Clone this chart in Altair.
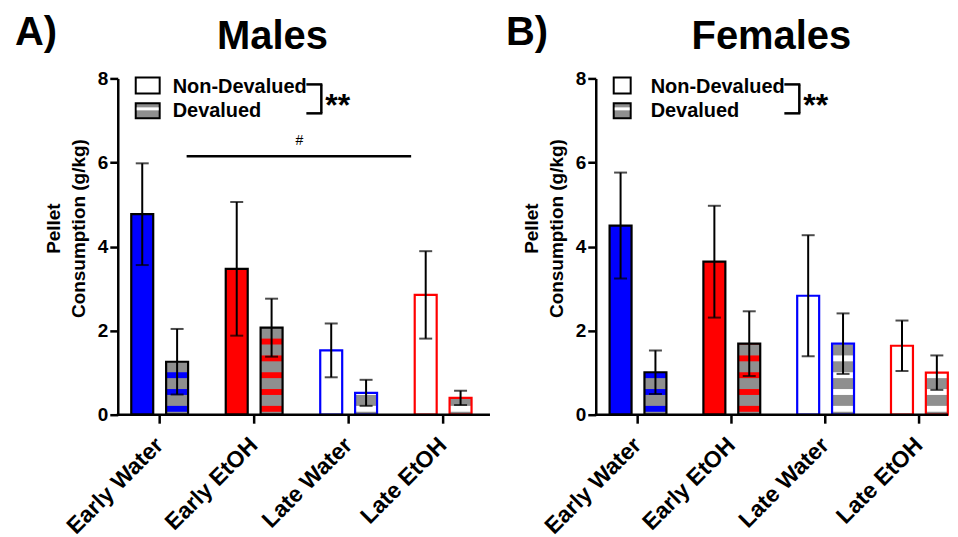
import altair as alt
import pandas as pd

FONT = "Liberation Sans"
GREY = "#8f8f8f"

groups = ["Early Water", "Early EtOH", "Late Water", "Late EtOH"]
conds = ["Non-Devalued", "Devalued"]
group_colors = ["#0000ff", "#ff0000", "#0000ff", "#ff0000"]

male_nondev = [4.77, 3.47, 1.53, 2.85]
male_nondev_sem = [1.21, 1.59, 0.64, 1.04]
male_dev = [1.26, 2.07, 0.52, 0.40]
male_dev_sem = [0.78, 0.69, 0.31, 0.17]

female_nondev = [4.50, 3.64, 2.83, 1.64]
female_nondev_sem = [1.26, 1.33, 1.44, 0.60]
female_dev = [1.01, 1.69, 1.69, 1.00]
female_dev_sem = [0.52, 0.77, 0.72, 0.41]


def build_table(nondev, nondev_sem, dev, dev_sem):
    rows = []
    for i, g in enumerate(groups):
        c = group_colors[i]
        early = i < 2
        rows.append(dict(group=g, cond="Non-Devalued", mean=nondev[i],
                         lo=nondev[i] - nondev_sem[i], hi=nondev[i] + nondev_sem[i],
                         fill=c if early else "white", stroke="black" if early else c))
        rows.append(dict(group=g, cond="Devalued", mean=dev[i],
                         lo=dev[i] - dev_sem[i], hi=dev[i] + dev_sem[i],
                         fill=GREY, stroke="black" if early else c))
    return pd.DataFrame(rows)


def build_stripes(dev, phase=0.07, period=0.4, thick=0.14):
    rows = []
    for i, g in enumerate(groups):
        color = group_colors[i] if i < 2 else "white"
        k = 0
        while True:
            s = phase + k * period
            if s >= dev[i]:
                break
            e = min(s + thick, dev[i])
            rows.append(dict(group=g, cond="Devalued", y0=s, y1=e, color=color))
            k += 1
    return pd.DataFrame(rows)


one = pd.DataFrame({"k": [0]})
labels_df = pd.DataFrame({"group": groups})


def txt(text, x, y, size, weight="bold", align="left"):
    return alt.Chart(one).mark_text(text=text, font=FONT, fontSize=size, fontWeight=weight,
                                    align=align, baseline="alphabetic", color="black").encode(
        x=alt.value(x), y=alt.value(y))


def hline(x1, x2, y, w=2.5):
    return alt.Chart(one).mark_rule(color="black", strokeWidth=w).encode(
        x=alt.value(x1), x2=alt.value(x2), y=alt.value(y))


def vline(x, y1, y2, w=2.5):
    return alt.Chart(one).mark_rule(color="black", strokeWidth=w).encode(
        x=alt.value(x), y=alt.value(y1), y2=alt.value(y2))


def box(x1, x2, y1, y2, fill, stroke="black", sw=2):
    return alt.Chart(one).mark_rect(fill=fill, stroke=stroke, strokeWidth=sw).encode(
        x=alt.value(x1), x2=alt.value(x2), y=alt.value(y1), y2=alt.value(y2))


HEIGHT = 337


def panel(nondev, nondev_sem, dev, dev_sem, letter, letter_x, title, title_x,
          width, rng, box_w, extra):
    df = build_table(nondev, nondev_sem, dev, dev_sem)
    sdf = build_stripes(dev)

    xscale = alt.Scale(range=rng, paddingInner=0, paddingOuter=0)
    x = alt.X("group:N", sort=groups, scale=xscale, axis=None)
    xo = alt.XOffset("cond:N", sort=conds, scale=alt.Scale(paddingInner=0.37, paddingOuter=0.54))
    y = alt.Y("mean:Q", scale=alt.Scale(domain=[0, 8]),
              axis=alt.Axis(values=[0, 2, 4, 6, 8], format="d",
                            title=["Pellet", "Consumption (g/kg)"],
                            titleFont=FONT, titleFontSize=19, titleFontWeight="bold",
                            titleColor="black", titlePadding=9, titleLineHeight=25, titleY=150,
                            labelFont=FONT, labelFontSize=19, labelFontWeight="bold",
                            labelColor="black", labelPadding=2, tickSize=8, tickWidth=2.5,
                            tickColor="black", domainWidth=2.5, domainColor="black", grid=False))

    base = alt.Chart(df)
    bars = base.mark_bar(strokeWidth=0).encode(
        x=x, xOffset=xo, y=y, fill=alt.Fill("fill:N", scale=None))
    stripes = alt.Chart(sdf).mark_bar(strokeWidth=0).encode(
        x=x, xOffset=xo, y=alt.Y("y0:Q"), y2="y1:Q", fill=alt.Fill("color:N", scale=None))
    outline = base.mark_bar(fillOpacity=0, strokeWidth=2.2).encode(
        x=x, xOffset=xo, y="mean:Q", stroke=alt.Stroke("stroke:N", scale=None))
    err = base.mark_rule(strokeWidth=2, color="black").encode(
        x=x, xOffset=xo, y="lo:Q", y2="hi:Q")
    cap_hi = base.mark_tick(thickness=2, size=13, color="black").encode(x=x, xOffset=xo, y="hi:Q")
    cap_lo = base.mark_tick(thickness=2, size=13, color="black").encode(x=x, xOffset=xo, y="lo:Q")
    baseline = alt.Chart(one).mark_rule(color="black", strokeWidth=2.5).encode(
        x=alt.value(-1), x2=alt.value(width), y=alt.datum(0))

    # category axis: ticks and rotated labels placed through the band scale
    xticks = alt.Chart(labels_df).mark_rule(color="black", strokeWidth=2.5).encode(
        x=x, y=alt.value(HEIGHT), y2=alt.value(HEIGHT + 9))
    xlabels = alt.Chart(labels_df).mark_text(
        angle=315, align="right", baseline="middle", font=FONT, fontSize=23,
        fontWeight="bold", color="black").encode(
        x=x, y=alt.value(HEIGHT + 27), text="group:N")

    legend = [
        box(18, 18 + box_w, -1, 15, "white"),
        box(18, 18 + box_w, 25, 40, GREY),
        box(19, 17 + box_w, 29, 32, "white", stroke="white", sw=0),
        txt("Non-Devalued", 55, 15, 20),
        txt("Devalued", 55, 39, 20),
        hline(189, 205, 6),
        vline(204, 6, 35),
        hline(189, 205, 35),
        txt("**", 208, 38, 32),
        txt(letter, letter_x, -33, 40),
        txt(title, title_x, -29, 40, align="center"),
    ]

    layers = [bars, stripes, outline, err, cap_hi, cap_lo, baseline, xticks, xlabels] + legend + extra
    return alt.layer(*layers).properties(width=width, height=HEIGHT)


male_extra = [
    alt.Chart(one).mark_rule(color="black", strokeWidth=2.5).encode(
        x=alt.value(69), x2=alt.value(294), y=alt.datum(6.15)),
    alt.Chart(one).mark_text(text="#", font=FONT, fontSize=14, align="center",
                             baseline="alphabetic", color="black").encode(
        x=alt.value(182), y=alt.datum(6.42)),
]

male = panel(male_nondev, male_nondev_sem, male_dev, male_dev_sem, "A)", -103, "Males", 155,
             373, [-5.35, 373.4], 24, male_extra)
female = panel(female_nondev, female_nondev_sem, female_dev, female_dev_sem, "B)", -90, "Females", 176,
               353, [-5, 371], 17, [])

chart = alt.hconcat(male, female, spacing=14).properties(
    padding={"left": 7, "top": 5, "right": 0, "bottom": 0},
    background="white",
).configure_view(stroke=None)

chart.save("out.html", embed_options={"renderer": "svg", "actions": False})
